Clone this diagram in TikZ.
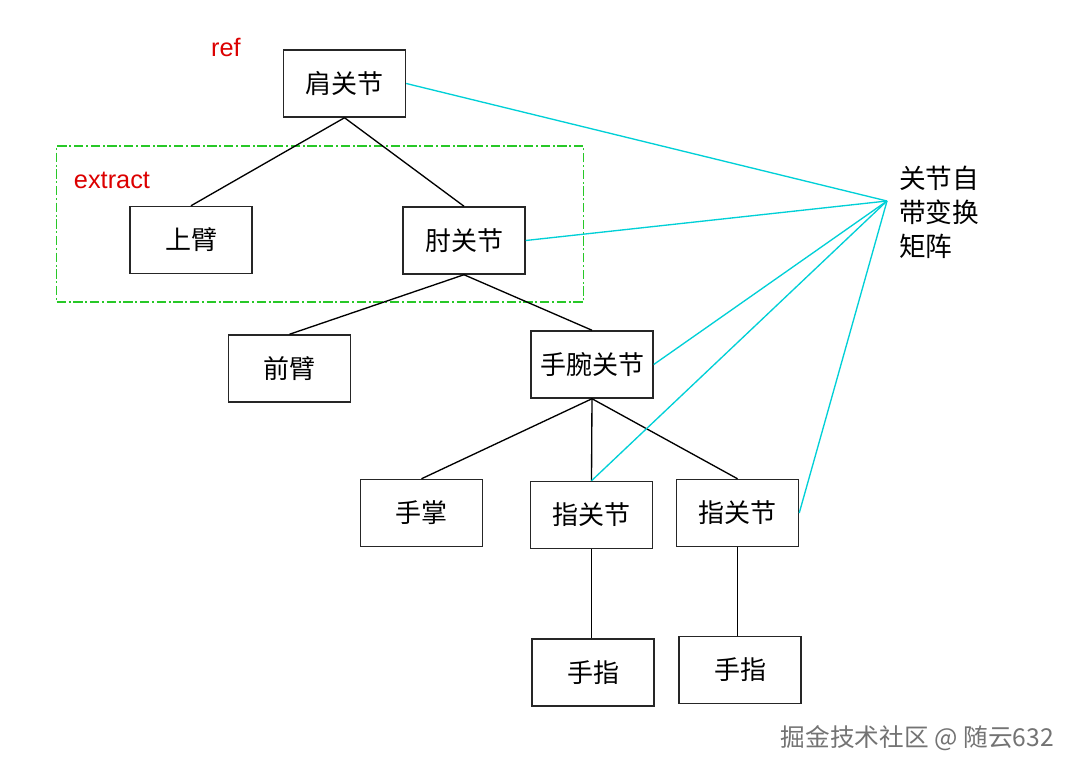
\documentclass[tikz,border=0pt]{standalone}
\usepackage{fontspec}
\setmainfont{Liberation Sans}
\newfontfamily\cjk{Noto Sans CJK SC}
\definecolor{cyanline}{RGB}{0,208,215}
\definecolor{greenbox}{RGB}{40,200,40}
\definecolor{redtxt}{RGB}{220,0,0}
\tikzset{
  box/.style={draw=black!85, line width=1.1pt, minimum width=91.5pt, minimum height=50.25pt, inner sep=0pt, font=\cjk\fontsize{19.5}{22}\selectfont},
  tree/.style={draw=black, line width=1pt},
  link/.style={draw=cyanline, line width=1pt},
  lbl/.style={text=redtxt, font=\fontsize{19}{22}\selectfont, inner sep=0pt}
}
\begin{document}
\begin{tikzpicture}[x=0.75pt,y=-0.75pt]
\useasboundingbox (0,0) rectangle (1076,773);
\fill[white] (0,0) rectangle (1076,773);

% extract region
\node[draw=greenbox, line width=1pt, dash pattern=on 7pt off 2pt on 1.5pt off 2pt, minimum width=395.25pt, minimum height=117pt, inner sep=0pt] (region) at (320,224) {};
\node[lbl] (reflbl) at (226,47) {ref};
\node[lbl] (extlbl) at (112,180) {extract};

% boxes
\node[box] (shoulder) at (344.5,83.5) {肩关节};
\node[box] (upper) at (191,240) {上臂};
\node[box] (elbow) at (464,240.5) {肘关节};
\node[box] (forearm) at (289.5,368.5) {前臂};
\node[box] (wrist) at (592,364.5) {手腕关节};
\node[box] (palm) at (421.5,513) {手掌};
\node[box] (knuckleA) at (591.5,515) {指关节};
\node[box] (knuckleB) at (737.5,513) {指关节};
\node[box] (fingerA) at (593,672.5) {手指};
\node[box] (fingerB) at (740,670) {手指};

% tree edges
\draw[tree] (shoulder.south) -- (upper.north);
\draw[tree] (shoulder.south) -- (elbow.north);
\draw[tree] (elbow.south) -- (forearm.north);
\draw[tree] (elbow.south) -- (wrist.north);
\draw[tree] (wrist.south) -- (palm.north);
\draw[tree] (wrist.south) -- (knuckleA.north);
\draw[tree] (wrist.south) -- (knuckleB.north);
\draw[tree] (knuckleA.south) -- (knuckleA.south |- fingerA.north);
\draw[tree] (knuckleB.south) -- (knuckleB.south |- fingerB.north);

% transformation matrix links
\coordinate (hub) at (887,201);
\node[font=\cjk\fontsize{20}{25.5}\selectfont, align=left, anchor=north west, inner sep=0pt] (matrixlbl) at (899,166) {关节自\\带变换\\矩阵};
\draw[link] (hub) -- (shoulder.east);
\draw[link] (hub) -- (elbow.east);
\draw[link] (hub) -- (wrist.east);
\draw[link] (hub) -- (knuckleA.north);
\draw[link] (hub) -- (knuckleB.east);

% watermark
\node[font=\cjk\fontsize{18.5}{21}\selectfont, text=black!55, anchor=east, inner sep=0pt] (wm) at (1054,738) {掘金技术社区 @ 随云632};
\end{tikzpicture}
\end{document}
